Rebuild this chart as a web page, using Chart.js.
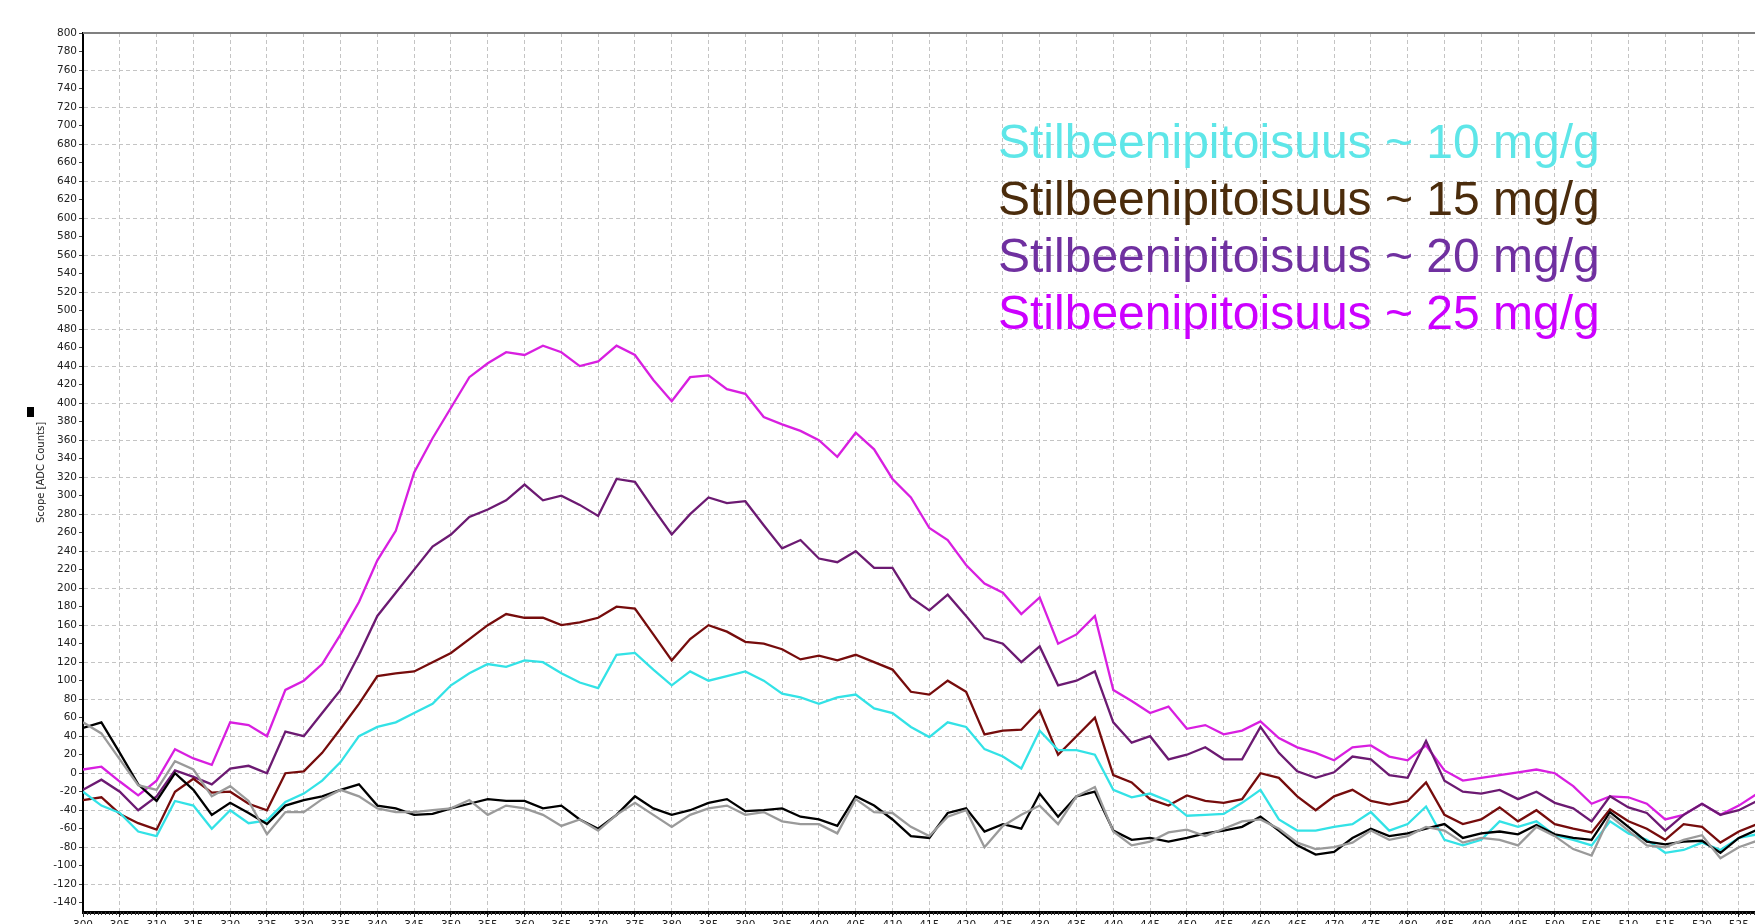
<!DOCTYPE html>
<html lang="fi">
<head>
    <meta charset="UTF-8">
    <title>Stilbeenipitoisuus</title>
    <script src="https://cdn.jsdelivr.net/npm/chart.js@4.4.0/dist/chart.umd.min.js"></script>
    <style>
        html, body { margin: 0; padding: 0; background: #fff; overflow: hidden; }
        #board { width: 1755px; height: 924px; overflow: hidden; }
    </style>
</head>
<body>
    <div id="board">
        <canvas id="chart1" width="1755" height="932"></canvas>
    </div>
<script>
    // x-akseli (aallonpituus), 2.5 välein
    const wavelength = [
        300, 302.5, 305, 307.5, 310, 312.5, 315, 317.5, 320, 322.5,
        325, 327.5, 330, 332.5, 335, 337.5, 340, 342.5, 345, 347.5,
        350, 352.5, 355, 357.5, 360, 362.5, 365, 367.5, 370, 372.5,
        375, 377.5, 380, 382.5, 385, 387.5, 390, 392.5, 395, 397.5,
        400, 402.5, 405, 407.5, 410, 412.5, 415, 417.5, 420, 422.5,
        425, 427.5, 430, 432.5, 435, 437.5, 440, 442.5, 445, 447.5,
        450, 452.5, 455, 457.5, 460, 462.5, 465, 467.5, 470, 472.5,
        475, 477.5, 480, 482.5, 485, 487.5, 490, 492.5, 495, 497.5,
        500, 502.5, 505, 507.5, 510, 512.5, 515, 517.5, 520, 522.5,
        525, 527.5
    ];

    const labels = [
        'Stilbeenipitoisuus ~ 10 mg/g',
        'Stilbeenipitoisuus ~ 15 mg/g',
        'Stilbeenipitoisuus ~ 20 mg/g',
        'Stilbeenipitoisuus ~ 25 mg/g'
    ];

    const conc10 = [
        -20, -35, -43, -63, -68, -30, -35, -60, -40, -54,
        -51, -31, -22, -8, 12, 40, 50, 55, 65, 75,
        95, 108, 118, 115, 122, 120, 108, 98, 92, 128,
        130, 112, 95, 110, 100, 105, 110, 100, 86, 82,
        75, 82, 85, 70, 65, 50, 39, 55, 50, 26,
        18, 5, 46, 25, 25, 20, -18, -26, -22, -30,
        -46, -45, -44, -32, -18, -50, -62, -62, -58, -55,
        -42, -62, -55, -36, -72, -78, -72, -52, -58, -52,
        -67, -72, -78, -52, -65, -72, -86, -83, -75, -83,
        -70, -66
    ];
    const conc15 = [
        -29, -26, -44, -54, -61, -20, -6, -21, -20, -33,
        -40, 0, 2, 22, 48, 75, 105, 108, 110, 120,
        130, 145, 160, 172, 168, 168, 160, 163, 168, 180,
        178, 150, 122, 145, 160, 153, 142, 140, 134, 123,
        127, 122, 128, 120, 112, 88, 85, 100, 88, 42,
        46, 47, 68, 20, 40, 60, -2, -10, -28, -35,
        -24, -30, -32, -28, 0, -5, -25, -40, -25, -18,
        -30, -34, -30, -10, -45, -55, -50, -37, -52, -40,
        -55, -60, -64, -39, -52, -60, -72, -55, -58, -75,
        -63, -55
    ];
    const conc20 = [
        -18, -7, -20, -40, -25, 3, -4, -12, 5, 8,
        0, 45, 40, 65, 90, 128, 170, 195, 220, 245,
        258, 277, 285, 295, 312, 295, 300, 290, 278, 318,
        315, 286, 258, 280, 298, 292, 294, 268, 243, 252,
        232, 228, 240, 222, 222, 190, 176, 193, 170, 146,
        140, 120, 137, 95, 100, 110, 55, 33, 40, 15,
        20, 28, 15, 15, 50, 22, 2, -5, 1, 18,
        15, -2, -5, 35, -8, -20, -22, -18, -28, -20,
        -32, -38, -52, -25, -37, -43, -62, -45, -33, -45,
        -40, -30
    ];
    const conc25 = [
        4, 7, -9, -24, -8, 26, 16, 9, 55, 52,
        40, 90, 100, 118, 150, 185, 230, 262, 325, 362,
        395, 428, 443, 455, 452, 462, 455, 440, 445, 462,
        452, 425, 402, 428, 430, 415, 410, 385, 377, 370,
        360, 342, 368, 350, 318, 298, 265, 252, 225, 205,
        195, 172, 190, 140, 150, 170, 90, 78, 65, 72,
        48, 52, 42, 46, 56, 38, 28, 22, 14, 28,
        30, 18, 14, 30, 3, -8, -5, -2, 1, 4,
        0, -14, -33, -25, -26, -33, -50, -45, -33, -45,
        -35, -22
    ];
    // referenssit (musta ja harmaa)
    const refBlack = [
        49, 55, 22, -12, -30, 0, -18, -45, -32, -43,
        -55, -35, -29, -25, -18, -12, -35, -38, -45, -44,
        -38, -33, -28, -30, -30, -38, -35, -50, -60, -45,
        -25, -38, -45, -40, -32, -28, -41, -40, -38, -47,
        -50, -57, -25, -35, -50, -68, -70, -43, -38, -63,
        -55, -60, -22, -47, -25, -20, -62, -72, -70, -74,
        -70, -65, -62, -58, -47, -62, -78, -88, -85, -70,
        -60, -68, -65, -60, -55, -70, -65, -63, -66, -56,
        -66, -70, -72, -42, -58, -74, -77, -74, -73, -86,
        -70, -61
    ];
    const refGray = [
        55, 43, 15, -13, -18, 13, 4, -25, -14, -30,
        -66, -42, -42, -28, -18, -25, -38, -42, -42, -40,
        -38, -29, -45, -35, -38, -45, -57, -50, -62, -45,
        -32, -45, -58, -45, -38, -35, -45, -42, -52, -55,
        -55, -65, -28, -42, -43, -58, -68, -47, -40, -80,
        -57, -45, -35, -55, -25, -15, -63, -78, -74, -64,
        -61, -68, -60, -52, -50, -60, -75, -82, -80, -75,
        -62, -72, -68, -58, -62, -75, -70, -72, -78, -58,
        -68, -82, -89, -46, -62, -78, -80, -72, -67, -92,
        -80, -73
    ];

    const lineColors = ['#9a9a9a', '#000000', '#33e2e6', '#760c0c', '#6c1a72', '#d81fe0'];
    const textColors = ['#5ee6e8', '#4b2c0c', '#7030a0', '#cc00ff'];

    const toXY = arr => arr.map((v, i) => ({ x: wavelength[i], y: v }));

    const tickFont = { family: 'DejaVu Sans', size: 10.5 };

    // pienet väliviivat x-akselille + selitteet + yläreuna
    const extras = {
        id: 'extras',
        afterDraw(chart) {
            const c = chart.ctx;
            const a = chart.chartArea;
            const xs = chart.scales.x;
            c.save();
            // yläreuna
            c.strokeStyle = '#808080';
            c.lineWidth = 2;
            c.beginPath();
            c.moveTo(a.left, a.top);
            c.lineTo(a.right, a.top);
            c.stroke();
            // x minor ticks
            c.strokeStyle = '#333';
            c.lineWidth = 1;
            c.beginPath();
            for (let v = xs.min; v <= xs.max; v += 0.5) {
                const px = Math.round(xs.getPixelForValue(v)) + 0.5;
                c.moveTo(px, a.bottom);
                c.lineTo(px, a.bottom + 3);
            }
            c.stroke();
            // pieni musta merkki akselin otsikon yllä
            c.fillStyle = '#000';
            c.fillRect(27, 407, 7, 10);
            // selitteet
            c.font = '48px "Liberation Sans", Arial, sans-serif';
            c.textBaseline = 'alphabetic';
            c.textAlign = 'left';
            labels.forEach((t, i) => {
                c.fillStyle = textColors[i];
                c.fillText(t, 998, 158 + i * 57);
            });
            c.restore();
        }
    };

    const ctx = document.getElementById('chart1').getContext('2d');
    new Chart(ctx, {
        type: 'line',
        data: {
            datasets: [
                { label: 'ref 2', data: toXY(refGray), borderColor: lineColors[0] },
                { label: 'ref 1', data: toXY(refBlack), borderColor: lineColors[1] },
                { label: labels[0], data: toXY(conc10), borderColor: lineColors[2] },
                { label: labels[1], data: toXY(conc15), borderColor: lineColors[3] },
                { label: labels[2], data: toXY(conc20), borderColor: lineColors[4] },
                { label: labels[3], data: toXY(conc25), borderColor: lineColors[5] }
            ]
        },
        options: {
            responsive: false,
            animation: false,
            devicePixelRatio: 1,
            layout: { padding: { left: 31, top: 33, right: 0, bottom: 0 } },
            elements: {
                point: { radius: 0 },
                line: { borderWidth: 2.3, tension: 0 }
            },
            plugins: {
                legend: { display: false },
                tooltip: { enabled: false }
            },
            scales: {
                x: {
                    type: 'linear',
                    min: 300,
                    max: 527.2,
                    afterFit: s => { s.height = 20; },
                    ticks: {
                        stepSize: 5,
                        includeBounds: false,
                        autoSkip: false,
                        maxRotation: 0,
                        padding: 2,
                        color: '#222',
                        font: tickFont
                    },
                    grid: { color: '#c4c4c4', lineWidth: 1, tickLength: 5, tickColor: '#222' },
                    border: { color: '#000', width: 3, dash: [4, 3] }
                },
                y: {
                    min: -150,
                    max: 800,
                    afterFit: s => { s.width = 52; },
                    title: {
                        display: true,
                        text: 'Scope [ADC Counts]',
                        color: '#222',
                        font: { family: 'DejaVu Sans', size: 10 },
                        padding: { top: 4, bottom: 0 }
                    },
                    ticks: {
                        stepSize: 20,
                        includeBounds: false,
                        autoSkip: false,
                        padding: 2,
                        color: '#222',
                        font: tickFont
                    },
                    grid: {
                        color: c => (c.tick && c.tick.value % 40 === 0) ? '#c4c4c4' : 'rgba(0,0,0,0)',
                        tickLength: 4,
                        tickColor: '#444'
                    },
                    border: { color: '#000', width: 2, dash: [4, 3] }
                }
            }
        },
        plugins: [extras]
    });
</script>
</body>
</html>
